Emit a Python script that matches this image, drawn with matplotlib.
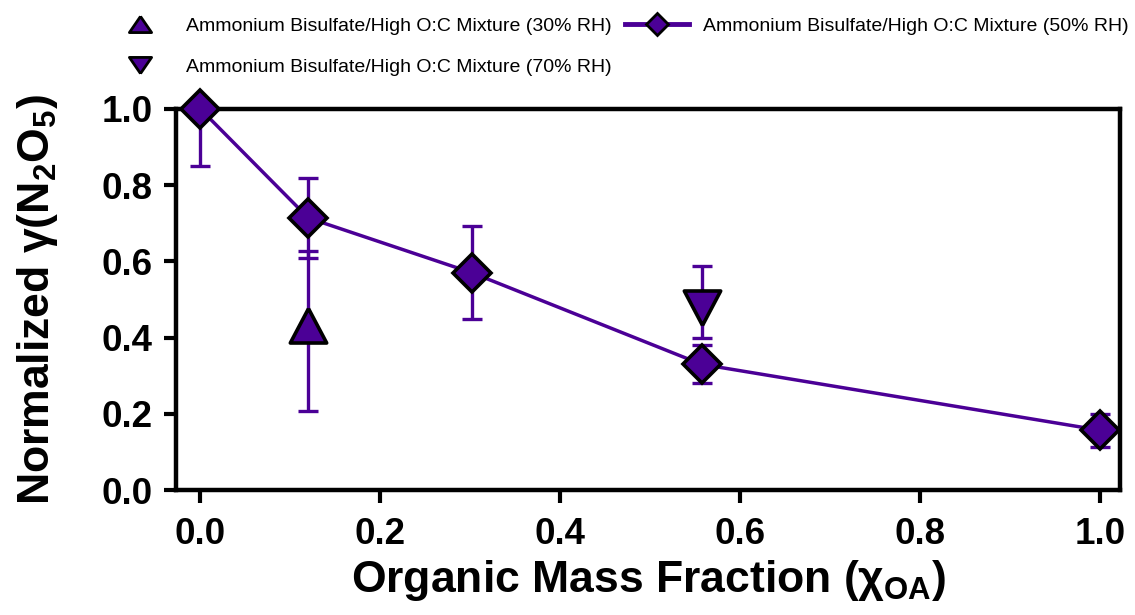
import numpy as np
import matplotlib.pyplot as plt
from matplotlib.lines import Line2D

plt.rcParams['font.family'] = ['Liberation Sans', 'DejaVu Sans']
plt.rcParams['mathtext.fontset'] = 'custom'
plt.rcParams['mathtext.rm'] = 'Liberation Sans:bold'
plt.rcParams['mathtext.it'] = 'Liberation Sans:bold'
plt.rcParams['mathtext.bf'] = 'Liberation Sans:bold'

# organic mass fraction and normalized uptake coefficients
x_50 = [0.0, 0.12, 0.302, 0.557, 1.0]
y_50 = [1.0, 0.714, 0.57, 0.33, 0.157]
err_50 = [0.15, 0.105, 0.122, 0.05, 0.043]

x_30 = [0.12]
y_30 = [0.418]
err_30 = [0.21]

x_70 = [0.557]
y_70 = [0.494]
err_70 = [0.095]

labels = ['Ammonium Bisulfate/High O:C Mixture (30% RH)',
          'Ammonium Bisulfate/High O:C Mixture (50% RH)',
          'Ammonium Bisulfate/High O:C Mixture (70% RH)']

purple = '#4b0096'

# triangles centred on their centroid
tri_up = [(0, 23.3), (-18.5, -11.7), (18.5, -11.7), (0, 23.3)]
tri_down = [(0, -23.3), (-18.5, 11.7), (18.5, 11.7), (0, -23.3)]
# flatter triangles for the legend
leg_up = [(0, 8), (-11, -8), (11, -8), (0, 8)]
leg_down = [(0, -8), (-11, 8), (11, 8), (0, -8)]

fig = plt.figure(figsize=(11.35, 6.15), dpi=100)
ax = fig.add_axes([0.155, 0.203, 0.832, 0.62])

for xs, ys, es in [(x_50, y_50, err_50), (x_30, y_30, err_30), (x_70, y_70, err_70)]:
    ax.errorbar(xs, ys, yerr=es, fmt='none', ecolor=purple, elinewidth=2.4,
                capsize=7.5, capthick=2.4, zorder=2)

ax.plot(x_50, y_50, color=purple, lw=2.5, zorder=3)
ax.plot(x_50, y_50, ls='none', marker='D', ms=19.5, mfc=purple, mec='black',
        mew=2.6, zorder=5, clip_on=False)
ax.plot(x_30, y_30, ls='none', marker=tri_up, ms=33, mfc=purple, mec='black',
        mew=2.6, zorder=5, clip_on=False)
ax.plot(x_70, y_70, ls='none', marker=tri_down, ms=33, mfc=purple, mec='black',
        mew=2.6, zorder=5, clip_on=False)

ax.set_xlim(-0.027, 1.022)
ax.set_ylim(0, 1.0)
ax.set_xticks(np.arange(0, 1.01, 0.2))
ax.set_yticks(np.arange(0, 1.01, 0.2))
ax.xaxis.set_major_formatter(plt.FormatStrFormatter('%.1f'))
ax.yaxis.set_major_formatter(plt.FormatStrFormatter('%.1f'))

for sp in ax.spines.values():
    sp.set_linewidth(3.2)
ax.tick_params(direction='out', length=9, width=3, labelsize=26.5, pad=8)
ax.tick_params(axis='x', pad=10)
for lab in ax.get_xticklabels() + ax.get_yticklabels():
    lab.set_fontweight('bold')

ax.set_xlabel(r'Organic Mass Fraction ($\chi_{\mathrm{OA}}$)', fontsize=32,
              fontweight='bold', labelpad=5)
ax.set_ylabel(r'Normalized $\gamma$(N$_2$O$_5$)', fontsize=32,
              fontweight='bold', labelpad=30)

handles = [
    Line2D([], [], ls='none', marker=leg_up, ms=16, mfc=purple, mec='black', mew=2),
    Line2D([], [], ls='none', marker=leg_down, ms=16, mfc=purple, mec='black', mew=2),
    Line2D([], [], color=purple, lw=3.5, marker='D', ms=11, mfc=purple, mec='black', mew=2),
]
fig.legend(handles, [labels[0], labels[2], labels[1]], ncol=2, loc='upper left',
           bbox_to_anchor=(0.08, 1.0), frameon=False, fontsize=14,
           handlelength=3.25, handletextpad=0.75, columnspacing=0.7,
           labelspacing=1.2)

fig.savefig('out.png', dpi=100)
